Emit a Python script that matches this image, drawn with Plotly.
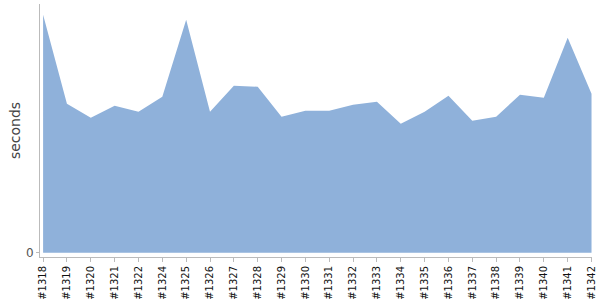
import plotly.graph_objects as go

builds = ["#1318", "#1319", "#1320", "#1321", "#1322", "#1324", "#1325", "#1326",
          "#1327", "#1328", "#1329", "#1330", "#1331", "#1332", "#1333", "#1334",
          "#1335", "#1336", "#1337", "#1338", "#1339", "#1340", "#1341", "#1342"]
seconds = [23.8, 14.9, 13.5, 14.7, 14.1, 15.6, 23.3, 14.1,
           16.7, 16.6, 13.6, 14.2, 14.2, 14.8, 15.1, 12.9,
           14.1, 15.7, 13.2, 13.6, 15.8, 15.5, 21.5, 15.9]

fig = go.Figure()
fig.add_trace(go.Scatter(
    x=builds, y=seconds, mode="lines", fill="tozeroy",
    fillcolor="#8FB1DA", line=dict(width=0, color="#8FB1DA"),
    hoverinfo="x+y",
))

fig.update_layout(
    width=600, height=300,
    margin=dict(l=40, r=8, t=4, b=43),
    paper_bgcolor="white", plot_bgcolor="white",
    showlegend=False,
    font=dict(family="DejaVu Sans"),
)
fig.update_xaxes(
    type="category", range=[-0.13, 23.02], automargin=False,
    showline=True, linecolor="#bbbbbb", linewidth=1,
    ticks="outside", ticklen=4, tickcolor="#bbbbbb",
    tickangle=-90, tickfont=dict(size=10, color="#111111", family="DejaVu Sans"),
    showgrid=False, zeroline=False,
)
fig.update_yaxes(
    range=[-0.43, 24.87], automargin=False,
    showline=True, linecolor="#bbbbbb", linewidth=1,
    ticks="outside", ticklen=3, tickcolor="#bbbbbb",
    tickvals=[0], ticktext=["0"],
    tickfont=dict(size=12, color="#555555", family="DejaVu Sans"),
    showgrid=False, zeroline=False,
    title=dict(text="seconds", font=dict(size=14, color="#444444", family="DejaVu Sans"), standoff=2),
)

fig.write_html("out.html")
